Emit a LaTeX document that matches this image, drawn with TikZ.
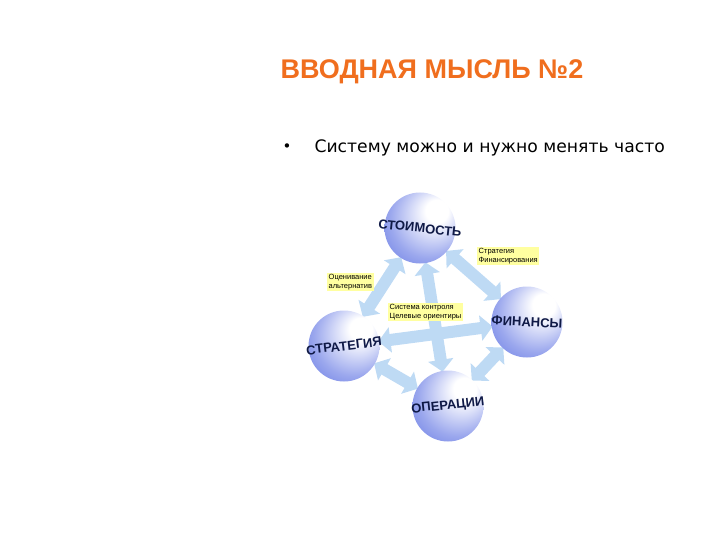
\documentclass[tikz,border=0pt]{standalone}
\usepackage{fontspec}
\setmainfont{Liberation Sans}
\newfontfamily\bodyfont{DejaVu Sans}
\usetikzlibrary{arrows.meta,backgrounds}
\definecolor{titleorange}{RGB}{240,110,30}
\definecolor{sphereblue}{RGB}{55,80,220}
\definecolor{arrowblue}{RGB}{190,218,244}
\definecolor{notebg}{RGB}{255,255,160}
\definecolor{labelnavy}{RGB}{15,25,70}
\pgfdeclareradialshading{sphereshade}{\pgfpoint{14bp}{14bp}}{%
  color(0bp)=(white); color(8bp)=(white); color(28bp)=(sphereblue!50); color(55bp)=(sphereblue)}
\newcommand{\spherelabel}[2]{\makebox[0pt]{\rotatebox{#1}{#2}}}
\tikzset{
  sphere/.style={circle, minimum size=71pt, inner sep=0pt, shading=sphereshade,
    font=\bfseries\fontsize{13}{13}\selectfont, text=labelnavy},
  note/.style={fill=notebg, inner sep=1.5pt, align=left,
    font=\fontsize{7.5}{8.5}\selectfont},
  link/.style={line width=12pt, color=arrowblue, shorten <=-1pt, shorten >=-1pt,
    {Triangle[width=25pt,length=12pt]}-{Triangle[width=25pt,length=12pt]}}
}
\begin{document}
\begin{tikzpicture}[x=1pt,y=1pt]
\useasboundingbox (0,0) rectangle (720,-540);

% title and bullet
\node[anchor=west, text=titleorange, font=\bfseries\fontsize{27}{29}\selectfont] (title) at (277,-72) {ВВОДНАЯ МЫСЛЬ №2};
\node[anchor=west, font=\bodyfont\fontsize{15}{17}\selectfont] (dot) at (279,-148) {•};
\node[anchor=west, font=\bodyfont\fontsize{17.2}{19}\selectfont] (thesis) at (311,-148) {Систему можно и нужно менять часто};

% the four spheres
\node[sphere] (cost) at (420,-228) {\spherelabel{-6}{СТОИМОСТЬ}};
\node[sphere] (fin) at (527,-322) {\spherelabel{-3}{ФИНАНСЫ}};
\node[sphere] (strat) at (344,-346) {\spherelabel{7}{СТРАТЕГИЯ}};
\node[sphere] (oper) at (448,-406) {\spherelabel{6}{ОПЕРАЦИИ}};

% connectors behind the spheres
\begin{scope}[on background layer]
\draw[link] (cost) -- (strat);
\draw[link] (cost) -- (fin);
\draw[link] (strat) -- (oper);
\draw[link] (fin) -- (oper);
\draw[link] (cost) -- (oper);
\draw[link] (strat) -- (fin);
\end{scope}

% notes
\node[note, anchor=north west] (n1) at (477,-247) {Стратегия\\Финансирования};
\node[note, anchor=north west] (n2) at (327,-273) {Оценивание\\альтернатив};
\node[note, anchor=north west] (n3) at (388,-303) {Система контроля\\Целевые ориентиры};
\end{tikzpicture}
\end{document}
